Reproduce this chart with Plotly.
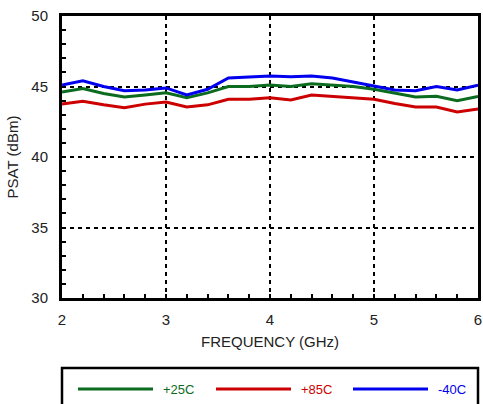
import plotly.graph_objects as go

freq = [2.0, 2.2, 2.4, 2.6, 2.8, 3.0, 3.2, 3.4, 3.6, 3.8, 4.0, 4.2, 4.4, 4.6, 4.8, 5.0, 5.2, 5.4, 5.6, 5.8, 6.0]
psat_25 = [44.6, 44.85, 44.5, 44.25, 44.4, 44.55, 44.2, 44.55, 45.0, 45.0, 45.1, 45.0, 45.2, 45.1, 45.0, 44.8, 44.55, 44.25, 44.3, 44.0, 44.3]
psat_85 = [43.75, 43.95, 43.7, 43.5, 43.75, 43.9, 43.55, 43.7, 44.1, 44.1, 44.2, 44.05, 44.4, 44.3, 44.25, 44.1, 43.8, 43.55, 43.55, 43.2, 43.4]
psat_m40 = [45.1, 45.4, 45.0, 44.7, 44.75, 44.9, 44.4, 44.8, 45.6, 45.7, 45.75, 45.7, 45.75, 45.6, 45.3, 45.0, 44.75, 44.7, 45.0, 44.75, 45.1]

series_names = ["+25C", "+85C", "-40C"]
series_colors = ["#0b6b1e", "#cc0000", "#0000ee"]
series_data = [psat_25, psat_85, psat_m40]

x_ticks = [2, 3, 4, 5, 6]
y_ticks = [30, 35, 40, 45, 50]

font = "Liberation Sans, Arial, sans-serif"

fig = go.Figure()
for name, color, ys in zip(series_names, series_colors, series_data):
    fig.add_trace(go.Scatter(x=freq, y=ys, mode="lines", name=name,
                             line=dict(color=color, width=3), showlegend=False))

axis_common = dict(
    showline=True, mirror=True, linecolor="black", linewidth=3,
    showgrid=True, gridcolor="black", gridwidth=2, griddash="4px,4px",
    zeroline=False, ticks="inside", ticklen=4, tickwidth=1.5, tickcolor="black",
    tickfont=dict(family=font, size=15, color="#222"), automargin=False,
)

fig.update_xaxes(range=[2, 6], tickvals=x_ticks, ticklabelstandoff=6,
                 minor=dict(dtick=0.2, ticks="inside", ticklen=4, tickwidth=1.5, tickcolor="black", showgrid=False),
                 title=dict(text="FREQUENCY (GHz)", font=dict(family=font, size=15, color="#222"), standoff=10),
                 **axis_common)
fig.update_yaxes(range=[30, 50], tickvals=y_ticks, ticklabelstandoff=8,
                 minor=dict(dtick=1, ticks="inside", ticklen=4, tickwidth=1.5, tickcolor="black", showgrid=False),
                 title=dict(text="PSAT (dBm)", font=dict(family=font, size=15, color="#222"), standoff=10),
                 **axis_common)

# legend box drawn below plot
shapes = [dict(type="rect", xref="paper", yref="paper", x0=0, x1=1, y0=-0.40, y1=-0.248,
               line=dict(color="black", width=2.5), fillcolor="white")]
annotations = []
leg_x = [(78, 153, 161), (216, 291, 299), (353, 428, 436)]
for (a, b, t), name, color in zip(leg_x, series_names, series_colors):
    yl = -(389 - 298) / 282
    shapes.append(dict(type="line", xref="paper", yref="paper",
                       x0=(a - 62) / 416, x1=(b - 62) / 416, y0=yl, y1=yl,
                       line=dict(color=color, width=3)))
    annotations.append(dict(xref="paper", yref="paper", x=(t - 62) / 416, y=yl,
                            text=name, showarrow=False, xanchor="left", yanchor="middle",
                            font=dict(family=font, size=13, color=color)))

fig.update_layout(
    width=483, height=404,
    margin=dict(l=62, r=5, t=16, b=106, autoexpand=False),
    paper_bgcolor="white", plot_bgcolor="white",
    shapes=shapes, annotations=annotations,
    showlegend=False,
)

fig.write_html("out.html")
